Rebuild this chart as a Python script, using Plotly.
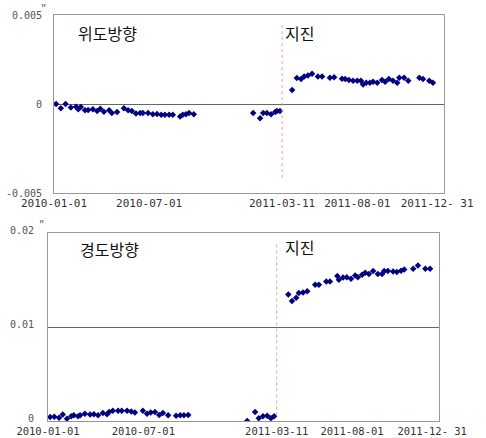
import plotly.graph_objects as go

# ---- Data: latitude direction (top panel) ----
lat_dates = [
    "2010-01-05", "2010-01-14", "2010-01-23", "2010-02-02", "2010-02-12", "2010-02-16",
    "2010-02-21", "2010-03-01", "2010-03-07", "2010-03-16", "2010-03-24", "2010-03-30",
    "2010-04-06", "2010-04-16", "2010-04-21", "2010-05-01", "2010-05-14", "2010-05-22",
    "2010-05-29", "2010-06-06", "2010-06-14", "2010-06-19", "2010-06-29", "2010-07-08",
    "2010-07-16", "2010-07-24", "2010-07-31", "2010-08-08", "2010-08-15", "2010-08-29",
    "2010-09-03", "2010-09-09", "2010-09-15", "2010-09-24",
    "2011-01-15", "2011-01-28", "2011-02-03", "2011-02-10", "2011-02-18", "2011-02-26",
    "2011-03-01", "2011-03-07",
    "2011-03-30", "2011-04-08", "2011-04-16", "2011-04-22", "2011-04-29", "2011-05-07",
    "2011-05-18", "2011-05-26", "2011-06-10", "2011-06-18", "2011-07-03", "2011-07-09",
    "2011-07-16", "2011-07-24", "2011-08-01", "2011-08-08", "2011-08-12", "2011-08-18",
    "2011-08-25", "2011-08-31", "2011-09-08", "2011-09-17", "2011-09-23", "2011-09-30",
    "2011-10-08", "2011-10-16", "2011-10-20", "2011-10-29", "2011-11-06", "2011-11-27",
    "2011-12-04", "2011-12-16", "2011-12-23",
]
lat_values = [
    0.0, -0.00024, 0.0, -0.0002, -0.00015, -0.0003,
    -0.00017, -0.00035, -0.00034, -0.0003, -0.0004, -0.00026,
    -0.00043, -0.00035, -0.0005, -0.00045, -0.00024, -0.00035,
    -0.0004, -0.00054, -0.0005, -0.0005, -0.0005, -0.00058,
    -0.00056, -0.0006, -0.0006, -0.0006, -0.0006, -0.0007,
    -0.0006, -0.00057, -0.0005, -0.00057,
    -0.0005, -0.0008, -0.0005, -0.0005, -0.00057, -0.00045,
    -0.0004, -0.0004,
    0.00079, 0.00146, 0.0014, 0.00154, 0.0016, 0.0017,
    0.00154, 0.00155, 0.00148, 0.0015, 0.00142, 0.0014,
    0.00135, 0.0013, 0.0013, 0.0013, 0.0011, 0.0012,
    0.0012, 0.00125, 0.0012, 0.00135, 0.00125, 0.0014,
    0.0013, 0.0012, 0.00148, 0.00148, 0.0013, 0.00148,
    0.0014, 0.0013, 0.0012,
]

# ---- Data: longitude direction (bottom panel) ----
lon_dates = [
    "2010-01-05", "2010-01-13", "2010-01-22", "2010-01-29", "2010-02-06", "2010-02-14",
    "2010-02-19", "2010-02-27", "2010-03-03", "2010-03-12", "2010-03-22", "2010-03-29",
    "2010-04-06", "2010-04-15", "2010-04-23", "2010-04-27", "2010-05-04", "2010-05-14",
    "2010-05-21", "2010-05-31", "2010-06-08", "2010-06-15", "2010-06-30", "2010-07-08",
    "2010-07-15", "2010-07-23", "2010-07-31", "2010-08-07", "2010-08-17", "2010-09-01",
    "2010-09-09", "2010-09-16", "2010-09-24",
    "2011-01-14", "2011-01-29", "2011-02-05", "2011-02-13", "2011-02-21", "2011-02-28",
    "2011-03-06",
    "2011-04-02", "2011-04-09", "2011-04-17", "2011-04-22", "2011-04-30", "2011-05-08",
    "2011-05-23", "2011-05-30", "2011-06-13", "2011-06-20", "2011-07-04", "2011-07-07",
    "2011-07-15", "2011-07-22", "2011-07-30", "2011-08-07", "2011-08-12", "2011-08-20",
    "2011-08-26", "2011-09-02", "2011-09-10", "2011-09-19", "2011-09-27", "2011-10-01",
    "2011-10-08", "2011-10-18", "2011-10-25", "2011-11-02", "2011-11-08", "2011-11-25",
    "2011-12-04", "2011-12-18", "2011-12-27",
]
lon_values = [
    0.00042, 0.00045, 0.00035, 0.0007, 0.00025, 0.0005,
    0.0006, 0.0005, 0.0006, 0.00077, 0.0007, 0.00072,
    0.0006, 0.00085, 0.00072, 0.00095, 0.0011, 0.0011,
    0.0011, 0.0011, 0.001, 0.0009, 0.0011, 0.00077,
    0.0009, 0.00095, 0.00065, 0.00085, 0.0006, 0.00055,
    0.0006, 0.0006, 0.00065,
    0.0, 0.00095, 0.0003, 0.0005, 0.00055, 0.0003,
    0.0005,
    0.01347, 0.01277, 0.01312, 0.01362, 0.01368, 0.01379,
    0.0145, 0.0145, 0.01485, 0.01485, 0.01542, 0.01503,
    0.01527, 0.0153, 0.01513, 0.01548, 0.0153, 0.01556,
    0.01577, 0.01563, 0.01595, 0.01563, 0.01563, 0.01595,
    0.01595, 0.0159, 0.01584, 0.01598, 0.01612, 0.01619,
    0.01654, 0.01619, 0.01619,
]

quake_date = "2011-03-11"
x_tickvals = ["2010-01-01", "2010-07-01", "2011-03-11", "2011-08-01", "2011-12-31"]
x_ticktext = ["2010-01-01", "2010-07-01", "2011-03-11", "2011-08-01", "2011-12- 31"]
x_range = ["2010-01-01", "2012-01-13"]

lat_tickvals = [-0.005, 0, 0.005]
lat_ticktext = ["-0.005", "0", "0.005"]
lon_tickvals = [0, 0.01, 0.02]
lon_ticktext = ["0", "0.01", "0.02"]

marker = dict(symbol="diamond", size=5, color="#000080")

fig = go.Figure()
fig.add_trace(go.Scatter(x=lat_dates, y=lat_values, mode="markers", marker=marker,
                         xaxis="x", yaxis="y", showlegend=False))
fig.add_trace(go.Scatter(x=lon_dates, y=lon_values, mode="markers", marker=marker,
                         xaxis="x2", yaxis="y2", showlegend=False))

W, H = 486, 438
def xd(a, b):
    return [a / W, b / W]
def yd(top, bottom):
    return [1 - bottom / H, 1 - top / H]

tickfont = dict(family="DejaVu Sans Mono", size=10, color="#555555")
xtickfont = dict(family="DejaVu Sans Mono", size=11, color="#333333")
xtickfont2 = dict(family="DejaVu Sans Mono", size=10.5, color="#333333")

common_x = dict(type="date", range=x_range, tickvals=x_tickvals, ticktext=x_ticktext,
                showgrid=False, zeroline=False, showline=True, linecolor="#999999",
                mirror=True, ticks="", automargin=False, ticklabelstandoff=0)
common_y = dict(showgrid=True, gridcolor="#666666", gridwidth=1, zeroline=False,
                showline=True, linecolor="#999999", mirror=True, ticks="",
                tickfont=tickfont, automargin=False)

fig.update_layout(
    width=W, height=H,
    margin=dict(l=0, r=0, t=0, b=0),
    paper_bgcolor="white", plot_bgcolor="white",
    xaxis=dict(domain=xd(54, 444), anchor="y", tickfont=xtickfont, **common_x),
    yaxis=dict(domain=yd(15, 193), anchor="x", range=[-0.005, 0.005],
               tickvals=lat_tickvals, ticktext=lat_ticktext, ticklabelstandoff=9,
               **common_y),
    xaxis2=dict(domain=xd(48, 439), anchor="y2", tickfont=xtickfont2, **common_x),
    yaxis2=dict(domain=yd(233, 421), anchor="x2", range=[0, 0.02],
                tickvals=lon_tickvals, ticktext=lon_ticktext, ticklabelstandoff=11,
                ticklabelshift=-3, **common_y),
)

# Earthquake lines
line_style = dict(color="#F4A0A0", width=1, dash="dot")
fig.add_shape(type="line", xref="x", yref="y domain", x0=quake_date, x1=quake_date,
              y0=0.084, y1=0.944, line=line_style)
fig.add_shape(type="line", xref="x2", yref="y2 domain", x0=quake_date, x1=quake_date,
              y0=0.03, y1=0.947, line=line_style)

labfont = dict(family="Noto Sans CJK KR", size=16, color="#111111")
def ann(text, px, py, font, xanchor="left"):
    fig.add_annotation(text=text, x=px / W, y=1 - py / H, xref="paper", yref="paper",
                       showarrow=False, xanchor=xanchor, yanchor="middle", font=font)

ann("위도방향", 76, 33, labfont)
ann("지진", 283, 33, labfont)
ann("경도방향", 78, 249, labfont)
ann("지진", 283, 247, labfont)
unitfont = dict(family="Noto Sans CJK KR", size=11, color="#555555")
ann("″", 39, 8, unitfont)
ann("″", 37, 224, unitfont)

fig.write_html("out.html")
